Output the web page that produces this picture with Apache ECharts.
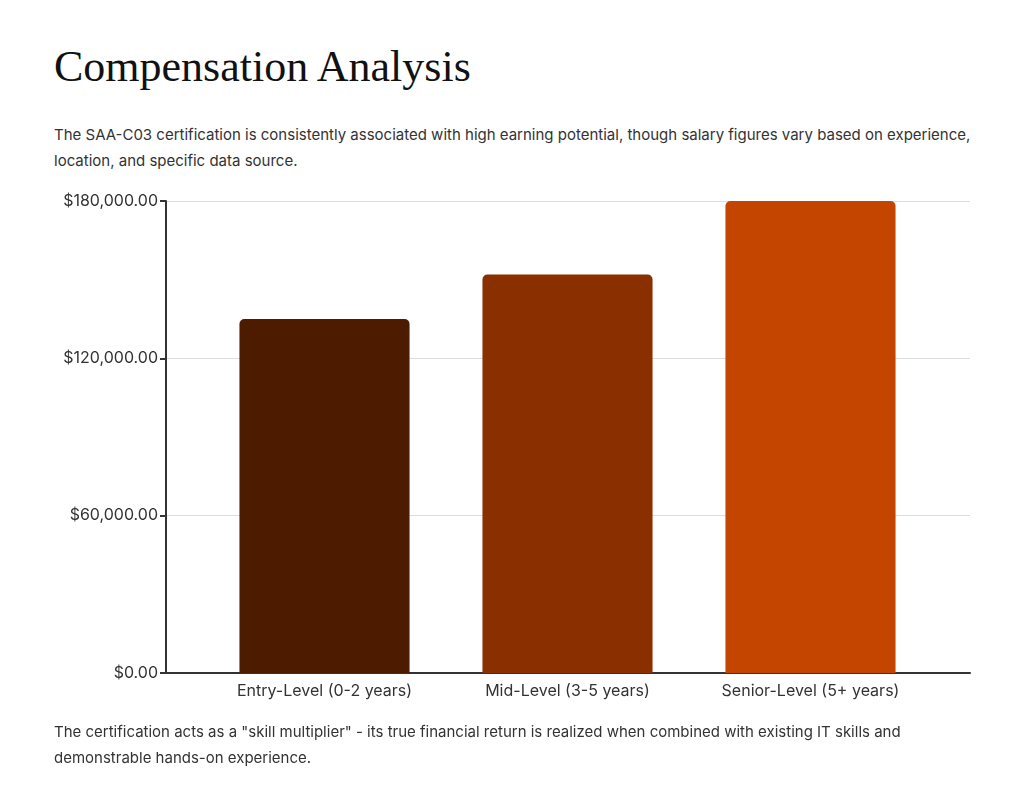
<!DOCTYPE html>
<html>
<head>
<meta charset="utf-8">
<script src="https://cdn.jsdelivr.net/npm/echarts@6/dist/echarts.min.js"></script>
<style>
  body { margin: 0; background: #fff; font-family: Inter, "Noto Sans", sans-serif; color: #333; }
  h1 { position: absolute; left: 54px; top: 41px; margin: 0; font-family: "Liberation Serif", "DejaVu Serif", serif; font-weight: 400; font-size: 44px; color: #111; }
  p { position: absolute; left: 54px; width: 930px; margin: 0; font-size: 15px; line-height: 26px; color: #333; }
  #chart { position: absolute; left: 0; top: 180px; width: 1024px; height: 540px; }
</style>
</head>
<body>
<h1>Compensation Analysis</h1>
<p style="top:122px">The SAA-C03 certification is consistently associated with high earning potential, though salary figures vary based on experience, location, and specific data source.</p>
<div id="chart"></div>
<p style="top:719px">The certification acts as a "skill multiplier" - its true financial return is realized when combined with existing IT skills and demonstrable hands-on experience.</p>
<script>
const categories = ["Entry-Level (0-2 years)", "Mid-Level (3-5 years)", "Senior-Level (5+ years)"];
const salaries = [135000, 152000, 180000];
const barColors = ["#4d1b00", "#8a2f00", "#c44500"];

const money = v => "$" + v.toLocaleString("en-US", { minimumFractionDigits: 2, maximumFractionDigits: 2 });
const axisStyle = { color: "#333", width: 2 };

const chart = echarts.init(document.getElementById("chart"));
chart.setOption({
  animation: false,
  grid: [
    { left: 166, right: 54, top: 21, bottom: 47 },
    { left: 203, right: 92, top: 21, bottom: 47 }
  ],
  xAxis: [
    { gridIndex: 0, type: "category", data: categories, axisLine: { lineStyle: axisStyle },
      axisTick: { show: false }, axisLabel: { show: false } },
    { gridIndex: 1, type: "category", data: categories, axisLine: { show: false },
      axisTick: { alignWithLabel: true, length: 6, lineStyle: axisStyle },
      axisLabel: { color: "#333", fontSize: 16, fontFamily: "Inter", margin: 10 } }
  ],
  yAxis: [
    { gridIndex: 0, type: "value", min: 0, max: 180000, interval: 60000,
      axisLine: { show: true, lineStyle: axisStyle },
      axisTick: { show: true, length: 6, lineStyle: axisStyle },
      axisLabel: { color: "#333", fontSize: 16, fontFamily: "Inter", margin: 8, formatter: money },
      splitLine: { lineStyle: { color: "#ddd" } } },
    { gridIndex: 1, type: "value", min: 0, max: 180000, interval: 60000, show: false, splitLine: { show: false } }
  ],
  series: [{
    type: "bar",
    xAxisIndex: 1,
    yAxisIndex: 1,
    barWidth: "70%",
    data: salaries.map((v, i) => ({ value: v, itemStyle: { color: barColors[i] } })),
    itemStyle: { borderRadius: [5, 5, 0, 0] }
  }]
});
</script>
</body>
</html>
